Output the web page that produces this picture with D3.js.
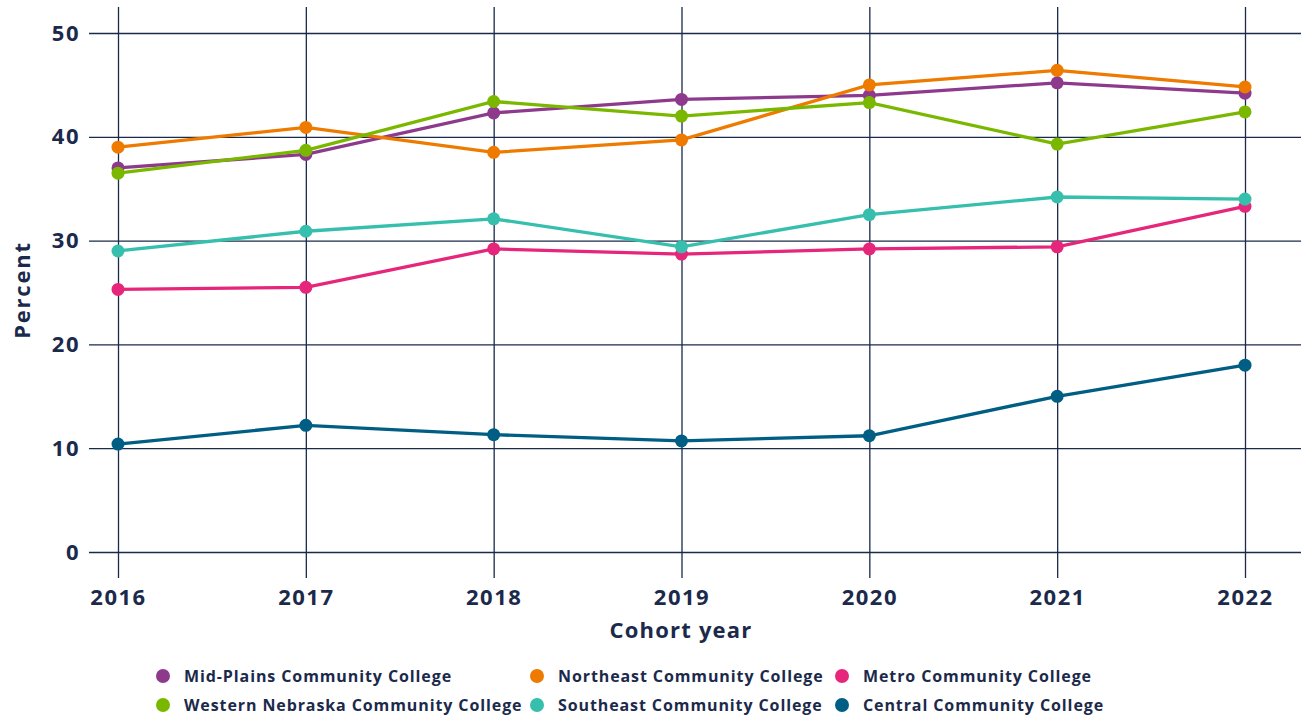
<html>
<head>
<script src="https://d3js.org/d3.v7.min.js"></script>
<style>
  body { margin: 0; background: #fff; }
  text { font-family: "Open Sans", sans-serif; font-weight: 700; fill: #1b2a4b; }
</style>
</head>
<body>
<svg class="chart" width="1301" height="717"></svg>
<script>
const years = ["2016", "2017", "2018", "2019", "2020", "2021", "2022"];
const yTicks = [0, 10, 20, 30, 40, 50];

const colleges = ["Mid-Plains Community College", "Northeast Community College", "Metro Community College",
                  "Western Nebraska Community College", "Southeast Community College", "Central Community College"];
const colors = ["#8e3a8c", "#ee7a00", "#e6267a", "#7ab800", "#37bfad", "#005e84"];

const midPlains = [37.0, 38.3, 42.3, 43.6, 44.0, 45.2, 44.2];
const northeast = [39.0, 40.9, 38.5, 39.7, 45.0, 46.4, 44.8];
const metro = [25.3, 25.5, 29.2, 28.7, 29.2, 29.4, 33.3];
const western = [36.5, 38.7, 43.4, 42.0, 43.3, 39.3, 42.4];
const southeast = [29.0, 30.9, 32.1, 29.4, 32.5, 34.2, 34.0];
const central = [10.4, 12.2, 11.3, 10.7, 11.2, 15.0, 18.0];

const series = [midPlains, northeast, metro, western, southeast, central];
// drawing order, bottom to top
const drawOrder = [5, 2, 4, 0, 1, 3];

const svg = d3.select(".chart");
const x = d3.scalePoint().domain(years).range([118, 1245]);
const y = d3.scaleLinear().domain([0, 50]).range([552, 33]);

// horizontal grid + y labels
const gy = svg.append("g")
  .attr("transform", "translate(89,0)")
  .call(d3.axisLeft(y).tickValues(yTicks).tickSize(-(1301 - 89)).tickPadding(9));
gy.select(".domain").remove();
gy.selectAll("line").attr("stroke", "#1b2a4b").attr("stroke-width", 1.3);
gy.selectAll("text").attr("font-size", 22).attr("letter-spacing", 1.5)
  .attr("fill", "#1b2a4b").attr("font-family", "Open Sans").attr("font-weight", 700);

// vertical grid + x labels
const gx = svg.append("g")
  .attr("transform", "translate(0,578)")
  .call(d3.axisBottom(x).tickSize(-571).tickPadding(11));
gx.select(".domain").remove();
gx.selectAll("line").attr("stroke", "#1b2a4b").attr("stroke-width", 1.3);
gx.selectAll("text").attr("font-size", 22).attr("letter-spacing", 1.5)
  .attr("fill", "#1b2a4b").attr("font-family", "Open Sans").attr("font-weight", 700);

svg.append("text")
  .attr("x", 681).attr("y", 638)
  .attr("text-anchor", "middle")
  .attr("font-size", 22)
  .attr("letter-spacing", 1.2)
  .text("Cohort year");

svg.append("text")
  .attr("transform", "translate(30,290) rotate(-90)")
  .attr("text-anchor", "middle")
  .attr("font-size", 22)
  .attr("letter-spacing", 1.8)
  .text("Percent");

const line = d3.line().x((d, i) => x(years[i])).y(d => y(d));

drawOrder.forEach(function(k) {
  const g = svg.append("g");
  g.append("path")
    .datum(series[k])
    .attr("d", line)
    .attr("fill", "none")
    .attr("stroke", colors[k])
    .attr("stroke-width", 3.3);
  g.selectAll("circle")
    .data(series[k])
    .enter()
    .append("circle")
    .attr("cx", (d, i) => x(years[i]))
    .attr("cy", d => y(d))
    .attr("r", 6.5)
    .attr("fill", colors[k]);
});

// legend
const legX = [163, 537, 842];
const legY = [676, 705];
colleges.forEach(function(name, i) {
  const cx = legX[i % 3], cy = legY[Math.floor(i / 3)];
  svg.append("circle").attr("cx", cx).attr("cy", cy).attr("r", 7).attr("fill", colors[i]);
  svg.append("text")
    .attr("x", cx + 21).attr("y", cy + 5.5)
    .attr("font-size", 16)
    .attr("letter-spacing", 0.9)
    .text(name);
});
</script>
</body>
</html>
